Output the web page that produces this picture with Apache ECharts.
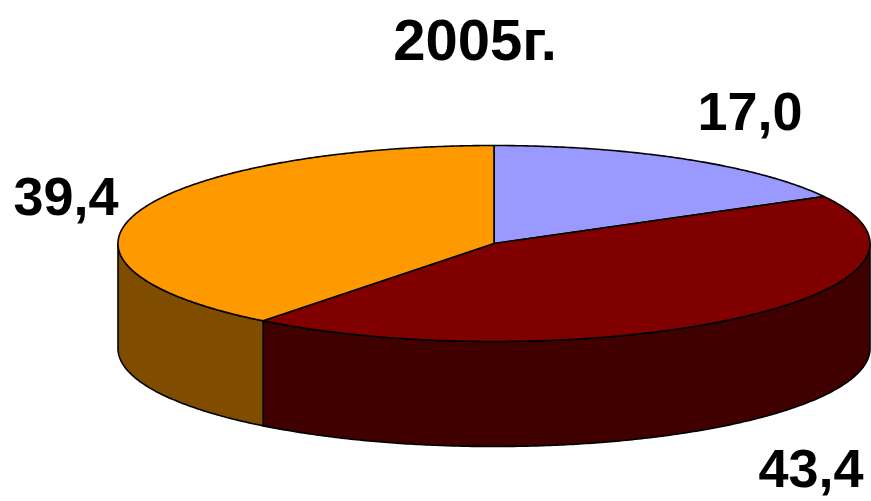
<!DOCTYPE html>
<html>
<head>
<meta charset="utf-8">
<style>html,body{margin:0;padding:0;background:#fff}#c{width:871px;height:501px}</style>
<script src="https://cdn.jsdelivr.net/npm/echarts@6/dist/echarts.min.js"></script>
</head>
<body>
<div id="c"></div>
<script>
const titleText = '2005г.';
const sliceValues = [17.0, 43.4, 39.4];
const sliceLabels = ['17,0', '43,4', '39,4'];

const topColors = ['#9999ff', '#800000', '#ff9900'];
const sideColors = ['#4d4d80', '#400000', '#804d00'];
const labelCenters = [[750, 115], [811, 472], [66, 200]];
const cx = 494, cy = 243.5, rx = 376, ry = 98, depth = 105;
const font = '"Liberation Sans", Arial, sans-serif';
const total = sliceValues.reduce((a, b) => a + b, 0);

function pt(deg, dy) {
  const r = deg * Math.PI / 180;
  return [cx + rx * Math.sin(r), cy - ry * Math.cos(r) + dy];
}
function arc(a0, a1, dy) {
  const out = [];
  const n = Math.max(2, Math.ceil(Math.abs(a1 - a0) * 2));
  for (let i = 0; i <= n; i++) out.push(pt(a0 + (a1 - a0) * i / n, dy));
  return out;
}
function renderItem(params, api) {
  const i = params.dataIndex;
  let before = 0;
  for (let k = 0; k < i; k++) before += sliceValues[k];
  const a0 = before / total * 360;
  const a1 = (before + api.value(0)) / total * 360;
  const children = [];
  const edge = { stroke: '#000', lineWidth: 1.6, lineJoin: 'round' };
  // front wall: visible between 90 and 270 degrees
  const s0 = Math.max(a0, 90), s1 = Math.min(a1, 270);
  if (s1 > s0) {
    const front = arc(s0, s1, 0).concat(arc(s1, s0, depth));
    children.push({
      type: 'polygon', shape: { points: front },
      style: Object.assign({ fill: sideColors[i] }, edge)
    });
  }
  const top = [[cx, cy]].concat(arc(a0, a1, 0));
  children.push({
    type: 'polygon', shape: { points: top },
    style: Object.assign({ fill: topColors[i] }, edge)
  });
  children.push({
    type: 'text', z2: 100,
    style: {
      x: labelCenters[i][0], y: labelCenters[i][1], text: sliceLabels[i],
      align: 'center', verticalAlign: 'middle',
      fill: '#000', font: 'bold 54px ' + font
    }
  });
  return { type: 'group', children };
}

const chart = echarts.init(document.getElementById('c'), null, { renderer: 'canvas' });
chart.setOption({
  animation: false,
  backgroundColor: '#ffffff',
  title: {
    text: titleText, left: 470, top: 39, textAlign: 'center', textVerticalAlign: 'middle',
    textStyle: { color: '#000', fontSize: 58, fontWeight: 'bold', fontFamily: font }
  },
  xAxis: { show: false }, yAxis: { show: false },
  series: [{
    type: 'custom', coordinateSystem: 'none',
    data: sliceValues.map(v => [v]),
    renderItem, silent: true
  }]
});
</script>
</body>
</html>
